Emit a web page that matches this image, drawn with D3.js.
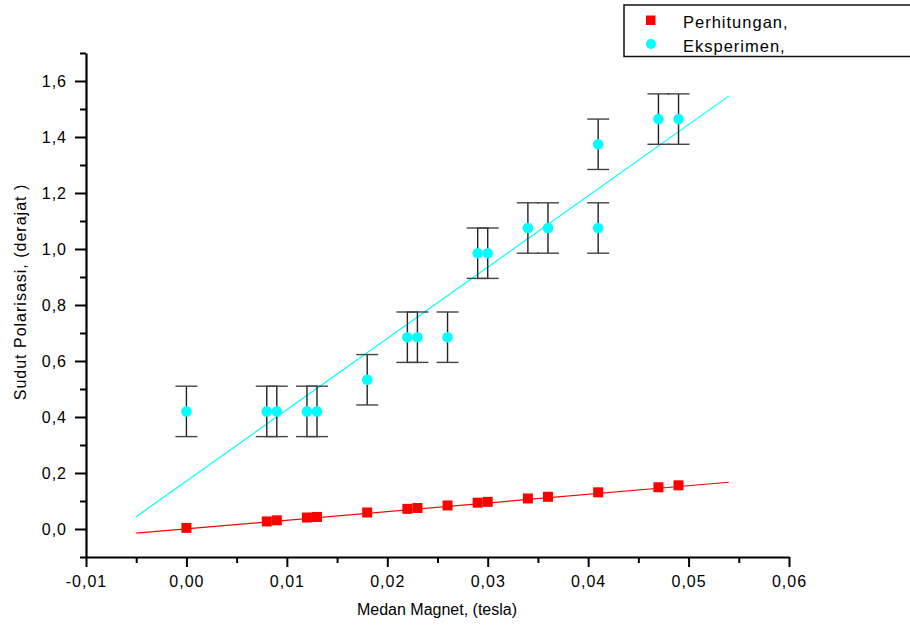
<!DOCTYPE html>
<html>
<head>
<meta charset="utf-8">
<script src="https://cdn.jsdelivr.net/npm/d3@7"></script>
<style>
  body { margin: 0; background: #fff; }
  text { font-family: Arial, "Liberation Sans", sans-serif; }
</style>
</head>
<body>
<svg id="chart" width="910" height="625"></svg>
<script>
// data
var calcX = [0, 0.008, 0.009, 0.012, 0.013, 0.018, 0.022, 0.023, 0.026, 0.029, 0.030, 0.034, 0.036, 0.041, 0.047, 0.049];
var calcY = [0.004, 0.027, 0.031, 0.041, 0.043, 0.059, 0.072, 0.075, 0.084, 0.094, 0.097, 0.109, 0.115, 0.131, 0.149, 0.156];

var expX = [0, 0.008, 0.009, 0.012, 0.013, 0.018, 0.022, 0.023, 0.026, 0.029, 0.030, 0.034, 0.036, 0.041, 0.041, 0.047, 0.049];
var expY = [0.42, 0.42, 0.42, 0.42, 0.42, 0.533, 0.685, 0.685, 0.685, 0.985, 0.985, 1.075, 1.075, 1.075, 1.374, 1.464, 1.464];
var expErr = [0.09, 0.09, 0.09, 0.09, 0.09, 0.09, 0.09, 0.09, 0.09, 0.09, 0.09, 0.09, 0.09, 0.09, 0.09, 0.09, 0.09];

// fitted lines (end points)
var fitX = [-0.005, 0.054];
var calcFitY = [-0.015, 0.167];
var expFitY = [0.044, 1.546];

var xTicks = [-0.01, 0, 0.01, 0.02, 0.03, 0.04, 0.05, 0.06];
var yTicks = [0, 0.2, 0.4, 0.6, 0.8, 1.0, 1.2, 1.4, 1.6];
var seriesNames = ["Perhitungan,", "Eksperimen,"];

var red = "#ff0000", cyan = "#00ffff";

var svg = d3.select("#chart");

var x = d3.scaleLinear().domain([-0.01, 0.06]).range([86, 789]);
var y = d3.scaleLinear().domain([-0.1, 1.7]).range([557, 53]);

var loc = d3.formatLocale({decimal: ",", thousands: ".", grouping: [3], currency: ["", ""], minus: "-"});
var fx = loc.format(".2f"), fy = loc.format(".1f");

// minor ticks first
var xMinor = d3.range(-0.005, 0.06, 0.01);
var yMinor = d3.range(-0.1, 1.75, 0.2);

svg.append("g")
  .attr("transform", "translate(0,557)")
  .call(d3.axisBottom(x).tickValues(xMinor).tickSize(6).tickFormat(""))
  .call(function(g) { g.select(".domain").remove(); g.selectAll("line").attr("stroke-width", 2); });

svg.append("g")
  .attr("transform", "translate(86,0)")
  .call(d3.axisLeft(y).tickValues(yMinor).tickSize(6).tickFormat(""))
  .call(function(g) { g.select(".domain").remove(); g.selectAll("line").attr("stroke-width", 2); });

var xAxis = svg.append("g")
  .attr("transform", "translate(0,557)")
  .call(d3.axisBottom(x).tickValues(xTicks).tickSize(10).tickSizeOuter(0).tickPadding(9).tickFormat(fx));

var yAxis = svg.append("g")
  .attr("transform", "translate(86,0)")
  .call(d3.axisLeft(y).tickValues(yTicks).tickSize(11).tickSizeOuter(0).tickPadding(8).tickFormat(fy));

[xAxis, yAxis].forEach(function(g) {
  g.select(".domain").attr("stroke-width", 2.2);
  g.selectAll(".tick line").attr("stroke-width", 2);
  g.selectAll(".tick text")
    .attr("font-size", 16)
    .attr("letter-spacing", 1)
    .attr("fill", "#000")
    .attr("font-family", "Arial, 'Liberation Sans', sans-serif");
});

// axis titles
svg.append("text")
  .attr("x", 437).attr("y", 615)
  .attr("text-anchor", "middle")
  .attr("font-size", 16)
  .text("Medan Magnet, (tesla)");

svg.append("text")
  .attr("transform", "translate(26,292) rotate(-90)")
  .attr("text-anchor", "middle")
  .attr("font-size", 16)
  .attr("letter-spacing", 1)
  .text("Sudut Polarisasi, (derajat )");

// fit lines
svg.append("line")
  .attr("x1", x(fitX[0])).attr("y1", y(calcFitY[0]))
  .attr("x2", x(fitX[1])).attr("y2", y(calcFitY[1]))
  .attr("stroke", red).attr("stroke-width", 1.2);

svg.append("line")
  .attr("x1", x(fitX[0])).attr("y1", y(expFitY[0]))
  .attr("x2", x(fitX[1])).attr("y2", y(expFitY[1]))
  .attr("stroke", cyan).attr("stroke-width", 1.2);

// error bars
var exp = expX.map(function(d, i) { return {x: d, y: expY[i], e: expErr[i]}; });

var eb = svg.append("g").attr("stroke", "#222").attr("stroke-width", 1.4);
exp.forEach(function(d) {
  eb.append("line")
    .attr("x1", x(d.x)).attr("x2", x(d.x))
    .attr("y1", y(d.y + d.e)).attr("y2", y(d.y - d.e));
  [d.y + d.e, d.y - d.e].forEach(function(v) {
    eb.append("line")
      .attr("x1", x(d.x) - 11).attr("x2", x(d.x) + 11)
      .attr("y1", y(v)).attr("y2", y(v))
      .attr("stroke", "#444");
  });
});

// markers
svg.append("g").selectAll("circle")
  .data(exp)
  .enter().append("circle")
  .attr("cx", function(d) { return x(d.x); })
  .attr("cy", function(d) { return y(d.y); })
  .attr("r", 5.3)
  .attr("fill", cyan);

var calc = calcX.map(function(d, i) { return {x: d, y: calcY[i]}; });
svg.append("g").selectAll("rect")
  .data(calc)
  .enter().append("rect")
  .attr("x", function(d) { return x(d.x) - 5; })
  .attr("y", function(d) { return y(d.y) - 5; })
  .attr("width", 10).attr("height", 10)
  .attr("fill", red);

// legend
var lg = svg.append("g");
lg.append("rect")
  .attr("x", 624).attr("y", 5)
  .attr("width", 300).attr("height", 51.5)
  .attr("fill", "none").attr("stroke", "#111").attr("stroke-width", 1.5);
lg.append("rect").attr("x", 646).attr("y", 15.5).attr("width", 9.5).attr("height", 9.5).attr("fill", red);
lg.append("circle").attr("cx", 651).attr("cy", 44).attr("r", 5).attr("fill", cyan);
lg.selectAll("text.lbl")
  .data(seriesNames)
  .enter().append("text")
  .attr("class", "lbl")
  .attr("x", 683)
  .attr("y", function(d, i) { return i === 0 ? 27.5 : 51.5; })
  .attr("font-size", 16.5)
  .attr("letter-spacing", 1)
  .text(function(d) { return d; });
</script>
</body>
</html>
